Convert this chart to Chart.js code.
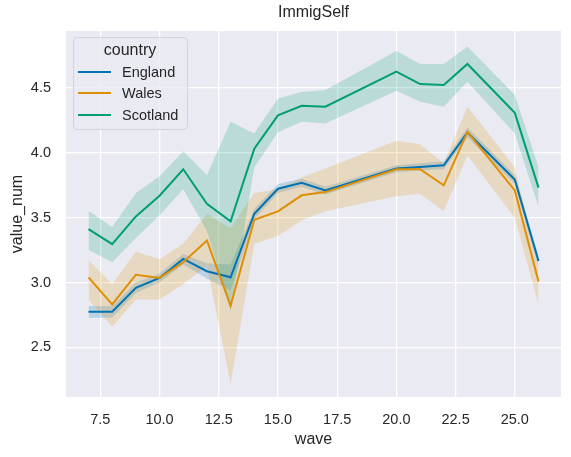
<!DOCTYPE html>
<html lang="en">
<head>
<meta charset="UTF-8">
<title>ImmigSelf</title>
<script src="https://cdn.jsdelivr.net/npm/chart.js"></script>
<style>
    body { margin: 0; background: #fff; }
    canvas { display: block; }
</style>
</head>
<body>
<canvas id="chart" width="571" height="457"></canvas>
<script>
// waves on the x axis
const waves = [7, 8, 9, 10, 11, 12, 13, 14, 15, 16, 17, 20, 21, 22, 23, 25, 26];

// series means and 95% band edges
const englandMean  = [2.775, 2.775, 2.960, 3.036, 3.183, 3.088, 3.041, 3.531, 3.724, 3.770, 3.711, 3.879, 3.892, 3.905, 4.157, 3.794, 3.166];
const englandLow   = [2.730, 2.730, 2.920, 3.000, 3.140, 3.030, 2.940, 3.490, 3.690, 3.740, 3.680, 3.850, 3.865, 3.875, 4.120, 3.760, 3.120];
const englandHigh  = [2.820, 2.820, 3.000, 3.070, 3.220, 3.150, 3.140, 3.570, 3.760, 3.800, 3.740, 3.905, 3.920, 3.935, 4.195, 3.830, 3.210];

const walesMean    = [3.041, 2.832, 3.061, 3.036, 3.157, 3.325, 2.822, 3.485, 3.549, 3.673, 3.698, 3.874, 3.874, 3.750, 4.162, 3.711, 3.008];
const walesLow     = [2.870, 2.660, 2.870, 2.870, 2.990, 3.130, 2.220, 3.300, 3.360, 3.480, 3.550, 3.665, 3.686, 3.550, 3.980, 3.500, 2.830];
const walesHigh    = [3.175, 2.990, 3.240, 3.180, 3.300, 3.530, 3.420, 3.690, 3.720, 3.810, 3.880, 4.093, 4.067, 3.918, 4.356, 3.890, 3.120];

const scotlandMean = [3.412, 3.296, 3.510, 3.670, 3.874, 3.608, 3.472, 4.033, 4.290, 4.363, 4.356, 4.626, 4.531, 4.523, 4.686, 4.309, 3.732];
const scotlandLow  = [3.253, 3.157, 3.343, 3.520, 3.720, 3.400, 2.780, 3.890, 4.160, 4.240, 4.227, 4.480, 4.394, 4.356, 4.549, 4.150, 3.583];
const scotlandHigh = [3.554, 3.428, 3.690, 3.820, 4.013, 3.830, 4.240, 4.150, 4.420, 4.470, 4.485, 4.786, 4.686, 4.686, 4.820, 4.446, 3.892];

const countries = ['England', 'Wales', 'Scotland'];
const colors = ['#0173b2', '#de8f05', '#029e73'];
const bandColors = ['rgba(1,115,178,0.2)', 'rgba(222,143,5,0.2)', 'rgba(2,158,115,0.2)'];

const xTicks = [7.5, 10, 12.5, 15, 17.5, 20, 22.5, 25];
const yTicks = [2.5, 3.0, 3.5, 4.0, 4.5];

const FONT = '"Liberation Sans", Arial, sans-serif';
const TEXT = '#262626';

function pts(ys) {
    return waves.map((w, i) => ({ x: w, y: ys[i] }));
}

const series = [
    [englandMean, englandLow, englandHigh],
    [walesMean, walesLow, walesHigh],
    [scotlandMean, scotlandLow, scotlandHigh]
];

// bands first (lower edge, then upper edge filled to it), lines after
const datasets = [];
series.forEach((s, i) => {
    datasets.push({
        label: countries[i] + ' low', data: pts(s[1]),
        borderWidth: 0, pointRadius: 0, fill: false, order: 5 - i
    });
    datasets.push({
        label: countries[i] + ' high', data: pts(s[2]),
        borderWidth: 0, pointRadius: 0, fill: '-1',
        backgroundColor: bandColors[i], order: 5 - i
    });
});
series.forEach((s, i) => {
    datasets.push({
        label: countries[i], data: pts(s[0]),
        borderColor: colors[i], borderWidth: 2, pointRadius: 0,
        fill: false, tension: 0, order: 2 - i
    });
});

const decorPlugin = {
    id: 'decor',
    beforeDraw(chart) {
        const a = chart.chartArea, ctx = chart.ctx;
        ctx.save();
        ctx.fillStyle = '#eaeaf2';
        ctx.fillRect(a.left, a.top, a.right - a.left, a.bottom - a.top);
        ctx.restore();
    },
    afterDraw(chart) {
        const a = chart.chartArea, ctx = chart.ctx;
        ctx.save();
        ctx.fillStyle = TEXT;
        ctx.textAlign = 'center';
        ctx.textBaseline = 'middle';
        ctx.font = '16px ' + FONT;
        ctx.fillText('ImmigSelf', (a.left + a.right) / 2, 13);
        ctx.fillText('wave', (a.left + a.right) / 2, 440);
        ctx.save();
        ctx.translate(18, (a.top + a.bottom) / 2);
        ctx.rotate(-Math.PI / 2);
        ctx.fillText('value_num', 0, 0);
        ctx.restore();

        // legend
        const lx = 73.5, ly = 37.5, lw = 114, lh = 92, r = 4;
        ctx.beginPath();
        ctx.moveTo(lx + r, ly);
        ctx.arcTo(lx + lw, ly, lx + lw, ly + lh, r);
        ctx.arcTo(lx + lw, ly + lh, lx, ly + lh, r);
        ctx.arcTo(lx, ly + lh, lx, ly, r);
        ctx.arcTo(lx, ly, lx + lw, ly, r);
        ctx.closePath();
        ctx.fillStyle = 'rgba(234,234,242,0.8)';
        ctx.fill();
        ctx.strokeStyle = '#d2d2d8';
        ctx.lineWidth = 1;
        ctx.stroke();

        ctx.fillStyle = TEXT;
        ctx.font = '16px ' + FONT;
        ctx.fillText('country', 130, 51);
        ctx.textAlign = 'left';
        ctx.font = '14.5px ' + FONT;
        const rows = [72, 93, 115];
        countries.forEach((c, i) => {
            ctx.strokeStyle = colors[i];
            ctx.lineWidth = 2;
            ctx.beginPath();
            ctx.moveTo(78, rows[i]);
            ctx.lineTo(111, rows[i]);
            ctx.stroke();
            ctx.fillStyle = TEXT;
            ctx.fillText(c, 122, rows[i] + 1);
        });
        ctx.restore();
    }
};

new Chart(document.getElementById('chart'), {
    type: 'line',
    data: { datasets: datasets },
    options: {
        responsive: false,
        animation: false,
        layout: { padding: { top: 31, right: 10, left: 0, bottom: 0 } },
        plugins: {
            legend: { display: false },
            title: { display: false },
            tooltip: { enabled: false }
        },
        scales: {
            x: {
                type: 'linear',
                min: 6.05,
                max: 26.95,
                afterFit(scale) { scale.height = 60; },
                afterBuildTicks(scale) { scale.ticks = xTicks.map(v => ({ value: v })); },
                border: { display: false },
                grid: { color: '#ffffff', lineWidth: 1.3, drawTicks: false },
                ticks: {
                    padding: 14,
                    color: TEXT,
                    font: { family: FONT, size: 14.5 },
                    maxRotation: 0,
                    callback: v => v.toFixed(1)
                }
            },
            y: {
                type: 'linear',
                min: 2.118,
                max: 4.94,
                afterFit(scale) { scale.width = 66; },
                afterBuildTicks(scale) { scale.ticks = yTicks.map(v => ({ value: v })); },
                border: { display: false },
                grid: { color: '#ffffff', lineWidth: 1.3, drawTicks: false },
                ticks: {
                    padding: 15,
                    color: TEXT,
                    font: { family: FONT, size: 14.5 },
                    callback: v => v.toFixed(1)
                }
            }
        }
    },
    plugins: [decorPlugin]
});
</script>
</body>
</html>
